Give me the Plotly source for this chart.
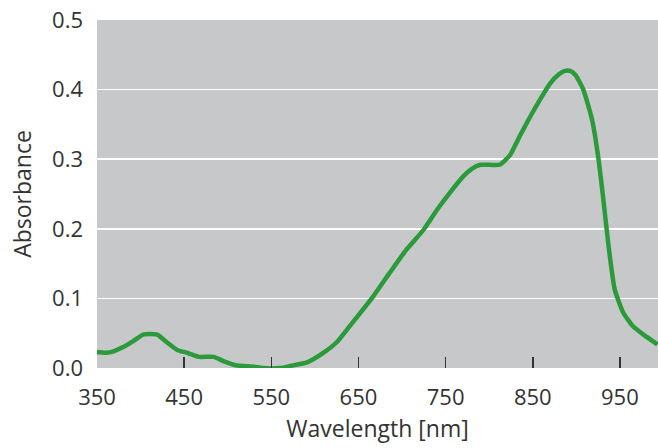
import plotly.graph_objects as go

wavelength = [350, 360, 369, 380, 392, 403, 419, 430, 442, 453, 467, 484, 495, 509, 530,
              540, 560, 572, 591, 610, 625, 638, 652, 667, 686, 705, 725, 740, 755, 770,
              780, 790, 812, 824, 835, 847, 858, 870, 880, 887, 893, 899, 908, 918, 925,
              931, 937, 944, 954, 965, 977, 993]
absorbance = [0.023, 0.022, 0.024, 0.030, 0.039, 0.048, 0.048, 0.037, 0.026, 0.022, 0.016,
              0.016, 0.010, 0.004, 0.002, 0.000, 0.000, 0.003, 0.008, 0.022, 0.037, 0.057,
              0.079, 0.103, 0.137, 0.170, 0.199, 0.227, 0.252, 0.275, 0.286, 0.292, 0.292,
              0.306, 0.333, 0.361, 0.385, 0.409, 0.422, 0.427, 0.427, 0.421, 0.400, 0.357,
              0.304, 0.242, 0.175, 0.113, 0.079, 0.060, 0.048, 0.034]

x_ticks = [350, 450, 550, 650, 750, 850, 950]
y_ticks = [0.0, 0.1, 0.2, 0.3, 0.4, 0.5]
y_labels = ["0.0", "0.1", "0.2", "0.3", "0.4", "0.5"]

fig = go.Figure()
fig.add_trace(go.Scatter(
    x=wavelength, y=absorbance, mode="lines",
    line=dict(color="#2b9a3b", width=4.5, shape="spline", smoothing=0.5),
    hoverinfo="skip", showlegend=False,
))

font = dict(family="Open Sans, Noto Sans, sans-serif", size=22, color="#333333")

fig.update_layout(
    width=658, height=448,
    margin=dict(l=96.5, r=0, t=20, b=79.5),
    paper_bgcolor="white",
    plot_bgcolor="#c7c8ca",
    font=font,
    xaxis=dict(
        range=[350, 993.7],
        tickvals=x_ticks,
        ticks="inside", ticklen=11, tickwidth=1.5, tickcolor="#333333",
        showgrid=False, zeroline=False, showline=False,
        ticklabelstandoff=14,
        tickfont=dict(size=22),
        automargin=False,
        title=dict(text="Wavelength [nm]", font=dict(size=23), standoff=10),
    ),
    yaxis=dict(
        range=[0, 0.5],
        tickvals=y_ticks, ticktext=y_labels,
        ticks="", showgrid=True, gridcolor="white", gridwidth=1.5,
        zeroline=False, showline=False,
        ticklabelstandoff=13,
        tickfont=dict(size=22),
        automargin=False,
        title=dict(text="Absorbance", font=dict(size=23), standoff=14),
    ),
)

fig.write_html(
    "out.html",
    config={"displayModeBar": False, "staticPlot": True},
    post_script="document.body.style.margin='0';document.body.style.overflow='hidden';",
)
